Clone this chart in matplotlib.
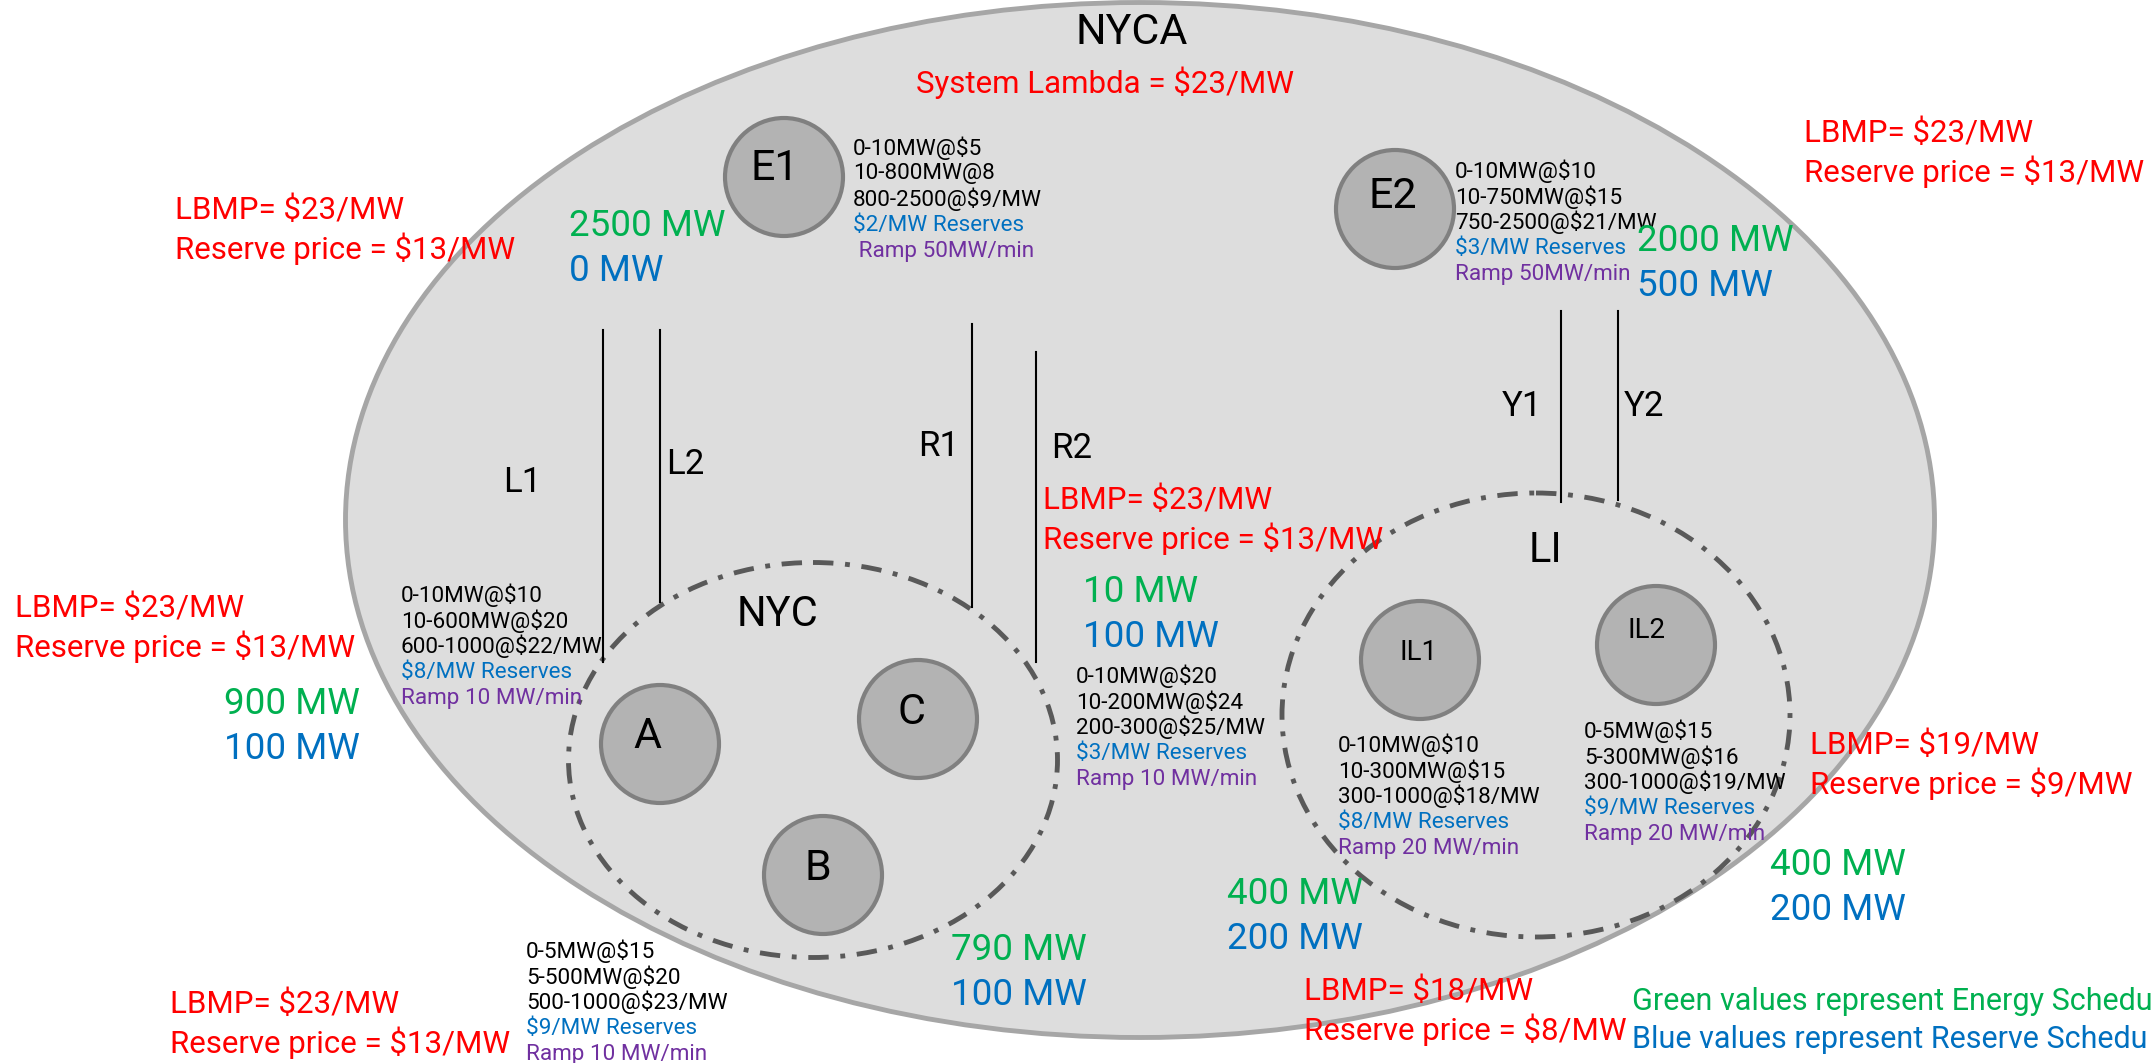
import matplotlib
matplotlib.use('Agg')
import matplotlib.pyplot as plt
from matplotlib.patches import Ellipse, Circle

plt.rcParams['font.family'] = ['Roboto', 'DejaVu Sans']

# --- data ---
gen_names = ['E1', 'E2', 'A', 'C', 'B', 'IL1', 'IL2']
e1_offer = ['0-10MW@$5', '10-800MW@8', '800-2500@$9/MW', '$2/MW Reserves', ' Ramp 50MW/min']
e2_offer = ['0-10MW@$10', '10-750MW@$15', '750-2500@$21/MW', '$3/MW Reserves', 'Ramp 50MW/min']
a_offer = ['0-10MW@$10', '10-600MW@$20', '600-1000@$22/MW', '$8/MW Reserves', 'Ramp 10 MW/min']
c_offer = ['0-10MW@$20', '10-200MW@$24', '200-300@$25/MW', '$3/MW Reserves', 'Ramp 10 MW/min']
b_offer = ['0-5MW@$15', '5-500MW@$20', '500-1000@$23/MW', '$9/MW Reserves', 'Ramp 10 MW/min']
il1_offer = ['0-10MW@$10', '10-300MW@$15', '300-1000@$18/MW', '$8/MW Reserves', 'Ramp 20 MW/min']
il2_offer = ['0-5MW@$15', '5-300MW@$16', '300-1000@$19/MW', '$9/MW Reserves', 'Ramp 20 MW/min']
offers = [e1_offer, e2_offer, a_offer, c_offer, b_offer, il1_offer, il2_offer]

energy_mw = [2500, 2000, 900, 10, 790, 400, 400]
reserve_mw = [0, 500, 100, 100, 100, 200, 200]
lbmp = [23, 23, 23, 23, 23, 18, 19]
reserve_price = [13, 13, 13, 13, 13, 8, 9]
system_lambda = 23

line_names = ['L1', 'L2', 'R1', 'R2', 'Y1', 'Y2']
zone_names = ['NYCA', 'NYC', 'LI']
# the note runs off the right edge in the original, so only the visible part is kept
note_lines = ['Green values represent Energy Schedu', 'Blue values represent Reserve Schedu']

# --- layout (pixel coordinates, y down) ---
gen_xy = [(784, 177), (1395, 209), (660, 744), (918, 719), (823, 875), (1420, 660), (1656, 645)]
gen_text_xy = [(775, 169), (1393, 196), (647, 737), (912, 712), (818, 868), (1419, 653), (1647, 631)]
gen_font = [31, 31, 31, 31, 31, 20, 20]
offer_xy = [(853, 148), (1455, 171), (401, 595), (1076, 676), (526, 951), (1338, 745), (1584, 731)]
sched_xy = [(569, 226), (1637, 241), (224, 704), (1083, 592), (951, 950), (1227, 894), (1770, 865)]
price_xy = [(175, 210), (1804, 133), (15, 608), (1043, 500), (170, 1004), (1304, 991), (1810, 745)]
line_x = [603, 660, 972, 1036, 1561, 1618]
line_y = [(330, 662), (330, 602), (324, 607), (352, 662), (311, 502), (311, 500)]
line_lab_xy = [(522, 482), (685, 464), (939, 446), (1072, 448), (1522, 406), (1644, 406)]

RED, GREEN, BLUE, PURPLE = '#FF0000', '#00B050', '#0070C0', '#7030A0'
offer_colors = ['black', 'black', 'black', BLUE, PURPLE]

fig = plt.figure(figsize=(21.56, 10.63), dpi=100)
ax = fig.add_axes([0, 0, 1, 1])
ax.set_xlim(0, 2156)
ax.set_ylim(1063, 0)
ax.axis('off')

# zones
ax.add_patch(Ellipse((1140, 520), 1589, 1035, facecolor='#DDDDDD', edgecolor='#A6A6A6', lw=3.5, zorder=1))
dashdot = (0, (4.2, 2.4, 1, 2.4))
ax.add_patch(Ellipse((813, 760), 489, 395, fill=False, edgecolor='#595959', lw=3.5, ls=dashdot, zorder=2))
ax.add_patch(Ellipse((1536, 715), 508, 444, fill=False, edgecolor='#595959', lw=3.5, ls=dashdot, zorder=2))
ax.text(1132, 33, zone_names[0], fontsize=31, ha='center', va='center', zorder=5)
ax.text(778, 614, zone_names[1], fontsize=30, ha='center', va='center', zorder=5)
ax.text(1545, 550, zone_names[2], fontsize=30, ha='center', va='center', zorder=5)
ax.text(1105, 83, f'System Lambda = ${system_lambda}/MW', fontsize=22.5, color=RED,
        ha='center', va='center', parse_math=False, zorder=5)

# lines
for x, (y0, y1), name, (tx, ty) in zip(line_x, line_y, line_names, line_lab_xy):
    ax.plot([x, x], [y0, y1], color='black', lw=1.5, zorder=3)
    ax.text(tx, ty, name, fontsize=25, ha='center', va='center', zorder=5)

# generators
for i, name in enumerate(gen_names):
    ax.add_patch(Circle(gen_xy[i], 59, facecolor='#B3B3B3', edgecolor='#808080', lw=3, zorder=3))
    ax.text(*gen_text_xy[i], name, fontsize=gen_font[i], ha='center', va='center', zorder=5)
    ox, oy = offer_xy[i]
    for k, (line, col) in enumerate(zip(offers[i], offer_colors)):
        ax.text(ox, oy + 25.8 * k, line, fontsize=16.2, color=col, ha='left', va='center',
                parse_math=False, zorder=5)
    sx, sy = sched_xy[i]
    ax.text(sx, sy, f'{energy_mw[i]} MW', fontsize=26.5, color=GREEN, ha='left', va='center', zorder=5)
    ax.text(sx, sy + 45, f'{reserve_mw[i]} MW', fontsize=26.5, color=BLUE, ha='left', va='center', zorder=5)
    px, py = price_xy[i]
    ax.text(px, py, f'LBMP= ${lbmp[i]}/MW', fontsize=22.5, color=RED, ha='left', va='center',
            parse_math=False, zorder=5)
    ax.text(px, py + 39, f'Reserve price = ${reserve_price[i]}/MW', fontsize=22.5, color=RED,
            ha='left', va='center', parse_math=False, zorder=5)

# note
ax.text(1632, 1001, note_lines[0], fontsize=22, color=GREEN, ha='left', va='center', zorder=5)
ax.text(1632, 1040, note_lines[1], fontsize=22, color=BLUE, ha='left', va='center', zorder=5)

fig.savefig('out.png', dpi=100)
